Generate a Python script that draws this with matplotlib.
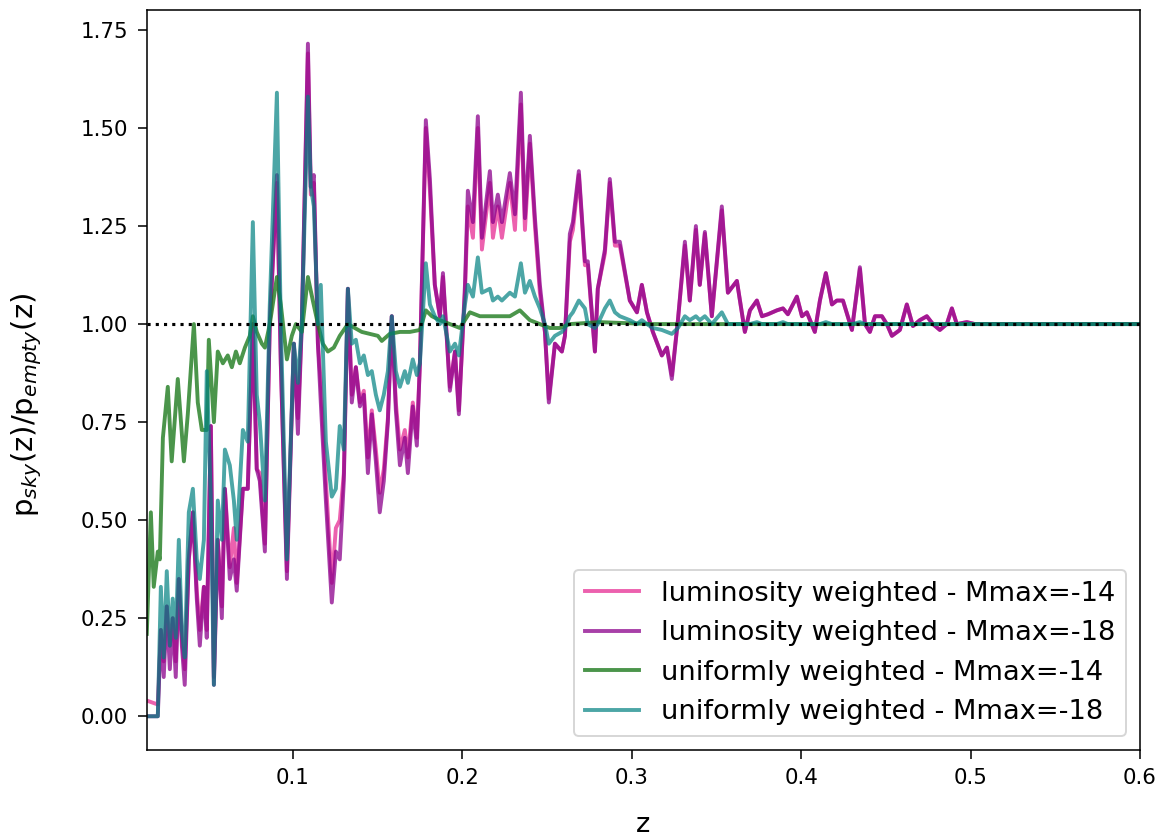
import numpy as np
import matplotlib
matplotlib.use("Agg")
import matplotlib.pyplot as plt

# values (z, p_sky/p_empty)
lum_z = [0.0138, 0.0203, 0.0221, 0.0238, 0.0256, 0.0274, 0.0291, 0.0309, 0.0327, 0.0345,
         0.0362, 0.0386, 0.0410, 0.0433, 0.0451, 0.0475, 0.0492, 0.0516, 0.0534, 0.0557,
         0.0581, 0.0599, 0.0628, 0.0652, 0.0669, 0.0705, 0.0734, 0.0764, 0.0787, 0.0805,
         0.0835, 0.0864, 0.0906, 0.0929, 0.0965, 0.1006, 0.1030, 0.1053, 0.1089, 0.1106,
         0.1124, 0.1148, 0.1165, 0.1195, 0.1230, 0.1254, 0.1277, 0.1301, 0.1325, 0.1348,
         0.1372, 0.1396, 0.1419, 0.1443, 0.1466, 0.1490, 0.1513, 0.1537, 0.1561, 0.1584,
         0.1608, 0.1632, 0.1661, 0.1679, 0.1708, 0.1732, 0.1750, 0.1785, 0.1809, 0.1838,
         0.1868, 0.1886, 0.1927, 0.1957, 0.1980, 0.2016, 0.2033, 0.2063, 0.2092, 0.2116,
         0.2163, 0.2181, 0.2210, 0.2234, 0.2281, 0.2311, 0.2346, 0.2370, 0.2399, 0.2429,
         0.2458, 0.2488, 0.2511, 0.2547, 0.2588, 0.2606, 0.2635, 0.2653, 0.2688, 0.2724,
         0.2741, 0.2783, 0.2800, 0.2842, 0.2871, 0.2901, 0.2930, 0.2989, 0.3031, 0.3060,
         0.3090, 0.3125, 0.3178, 0.3208, 0.3237, 0.3273, 0.3314, 0.3343, 0.3379, 0.3402,
         0.3432, 0.3473, 0.3532, 0.3568, 0.3621, 0.3668, 0.3698, 0.3739, 0.3769, 0.3804,
         0.3857, 0.3893, 0.3922, 0.3975, 0.4005, 0.4034, 0.4081, 0.4111, 0.4146, 0.4182,
         0.4211, 0.4247, 0.4300, 0.4347, 0.4377, 0.4406, 0.4436, 0.4477, 0.4506, 0.4536,
         0.4583, 0.4624, 0.4660, 0.4701, 0.4742, 0.4778, 0.4819, 0.4860, 0.4890, 0.4919,
         0.4978, 0.5026, 0.6000]

lum_m18 = [0.00, 0.00, 0.22, 0.10, 0.28, 0.12, 0.25, 0.10, 0.35, 0.18,
           0.08, 0.40, 0.52, 0.30, 0.18, 0.33, 0.20, 0.74, 0.08, 0.45,
           0.25, 0.58, 0.35, 0.40, 0.32, 0.58, 0.58, 1.00, 0.63, 0.60,
           0.42, 1.00, 1.38, 0.90, 0.35, 0.95, 0.72, 1.00, 1.715, 1.35,
           1.38, 0.95, 0.80, 0.55, 0.29, 0.42, 0.40, 0.60, 1.09, 0.80,
           0.89, 0.79, 0.82, 0.62, 0.77, 0.65, 0.52, 0.60, 0.75, 1.02,
           0.78, 0.64, 0.71, 0.62, 0.79, 0.69, 0.90, 1.52, 1.37, 1.10,
           1.02, 1.13, 0.83, 0.93, 0.77, 1.10, 1.34, 1.26, 1.53, 1.22,
           1.39, 1.26, 1.33, 1.26, 1.385, 1.28, 1.59, 1.27, 1.48, 1.27,
           1.10, 0.98, 0.80, 0.95, 0.93, 0.97, 1.23, 1.26, 1.39, 1.16,
           1.16, 0.93, 1.09, 1.19, 1.37, 1.21, 1.21, 1.06, 1.03, 1.10,
           1.03, 0.98, 0.92, 0.94, 0.86, 1.01, 1.21, 1.06, 1.25, 1.10,
           1.235, 1.02, 1.30, 1.08, 1.11, 0.98, 1.035, 1.06, 1.02, 1.025,
           1.035, 1.04, 1.025, 1.07, 1.02, 1.03, 0.98, 1.06, 1.13, 1.05,
           1.06, 1.06, 0.985, 1.145, 1.00, 0.98, 1.02, 1.02, 1.00, 0.97,
           0.985, 1.05, 0.995, 1.01, 1.02, 1.00, 0.985, 1.00, 1.04, 1.00,
           1.005, 1.00, 1.00]

lum_m14 = [0.04, 0.03, 0.22, 0.14, 0.28, 0.18, 0.25, 0.14, 0.35, 0.20,
           0.12, 0.40, 0.52, 0.32, 0.22, 0.33, 0.22, 0.74, 0.10, 0.45,
           0.28, 0.58, 0.38, 0.48, 0.34, 0.58, 0.58, 1.00, 0.63, 0.62,
           0.44, 1.00, 1.36, 0.90, 0.37, 0.95, 0.76, 1.00, 1.69, 1.33,
           1.36, 0.95, 0.85, 0.60, 0.34, 0.48, 0.50, 0.62, 1.09, 0.82,
           0.89, 0.80, 0.83, 0.66, 0.78, 0.68, 0.57, 0.63, 0.76, 1.02,
           0.80, 0.68, 0.73, 0.66, 0.80, 0.71, 0.90, 1.50, 1.34, 1.10,
           1.02, 1.12, 0.84, 0.93, 0.78, 1.08, 1.30, 1.22, 1.50, 1.19,
           1.36, 1.22, 1.30, 1.22, 1.36, 1.24, 1.56, 1.24, 1.46, 1.25,
           1.08, 0.98, 0.81, 0.95, 0.93, 0.97, 1.21, 1.24, 1.38, 1.15,
           1.15, 0.93, 1.09, 1.18, 1.36, 1.20, 1.20, 1.06, 1.03, 1.10,
           1.03, 0.98, 0.92, 0.94, 0.87, 1.01, 1.20, 1.06, 1.24, 1.10,
           1.23, 1.02, 1.29, 1.08, 1.11, 0.98, 1.035, 1.06, 1.02, 1.025,
           1.035, 1.04, 1.025, 1.07, 1.02, 1.03, 0.98, 1.06, 1.13, 1.05,
           1.06, 1.06, 0.985, 1.14, 1.00, 0.98, 1.02, 1.02, 1.00, 0.97,
           0.985, 1.05, 0.995, 1.01, 1.02, 1.00, 0.985, 1.00, 1.04, 1.00,
           1.005, 1.00, 1.00]

uni_m18 = [0.00, 0.00, 0.33, 0.15, 0.37, 0.18, 0.30, 0.20, 0.45, 0.22,
           0.15, 0.52, 0.58, 0.40, 0.35, 0.45, 0.88, 0.55, 0.08, 0.55,
           0.45, 0.68, 0.64, 0.55, 0.45, 0.73, 0.70, 1.26, 0.82, 0.75,
           0.55, 1.05, 1.59, 1.00, 0.40, 0.95, 0.85, 1.00, 1.58, 1.35,
           1.30, 1.00, 1.10, 0.70, 0.56, 0.58, 0.74, 0.68, 1.09, 0.95,
           0.96, 0.90, 0.92, 0.87, 0.88, 0.82, 0.78, 0.82, 0.88, 1.02,
           0.88, 0.84, 0.88, 0.85, 0.91, 0.87, 0.90, 1.155, 1.05, 1.02,
           1.00, 1.02, 0.93, 0.95, 0.92, 1.05, 1.10, 1.07, 1.17, 1.08,
           1.09, 1.06, 1.07, 1.06, 1.08, 1.07, 1.155, 1.08, 1.11, 1.07,
           1.04, 1.00, 0.95, 0.97, 0.98, 0.99, 1.02, 1.03, 1.06, 1.04,
           1.00, 0.99, 1.00, 1.04, 1.06, 1.03, 1.02, 1.01, 1.00, 1.01,
           1.00, 0.99, 0.985, 0.98, 0.975, 0.99, 1.02, 1.01, 1.02, 1.01,
           1.02, 1.00, 1.03, 1.00, 1.00, 1.00, 1.00, 1.005, 1.00, 1.00,
           1.00, 1.005, 1.00, 1.00, 1.00, 1.00, 1.00, 1.00, 1.005, 1.00,
           1.00, 1.00, 1.00, 1.005, 1.00, 1.00, 1.00, 1.00, 1.00, 1.00,
           1.00, 1.00, 1.00, 1.00, 1.00, 1.00, 1.00, 1.00, 1.00, 1.00,
           1.00, 1.00, 1.00]

uni_z = [0.0138, 0.0162, 0.0179, 0.0203, 0.0215, 0.0233, 0.0262, 0.0285, 0.0321, 0.0357,
         0.0380, 0.0416, 0.0439, 0.0463, 0.0492, 0.0504, 0.0534, 0.0557, 0.0587, 0.0616,
         0.0640, 0.0664, 0.0687, 0.0717, 0.0746, 0.0764, 0.0787, 0.0817, 0.0835, 0.0864,
         0.0906, 0.0929, 0.0965, 0.0994, 0.1018, 0.1053, 0.1089, 0.1118, 0.1148, 0.1177,
         0.1207, 0.1242, 0.1277, 0.1325, 0.1366, 0.1407, 0.1454, 0.1502, 0.1525, 0.1572,
         0.1632, 0.1691, 0.1750, 0.1785, 0.1821, 0.1868, 0.1927, 0.1986, 0.2045, 0.2104,
         0.2163, 0.2222, 0.2281, 0.2340, 0.2399, 0.2458, 0.2517, 0.2576, 0.2635, 0.2812,
         0.3107, 0.6000]

uni_m14 = [0.21, 0.52, 0.33, 0.42, 0.40, 0.71, 0.84, 0.65, 0.86, 0.65,
           0.77, 1.00, 0.80, 0.73, 0.73, 0.96, 0.75, 0.93, 0.90, 0.92,
           0.89, 0.93, 0.90, 0.94, 0.97, 1.02, 0.98, 0.95, 0.94, 1.00,
           1.12, 1.05, 0.91, 0.97, 1.00, 0.98, 1.12, 1.06, 1.00, 0.95,
           0.93, 0.94, 0.97, 1.00, 0.99, 0.98, 0.975, 0.97, 0.957, 0.975,
           0.98, 0.98, 0.985, 1.035, 1.02, 1.01, 1.00, 0.99, 1.03, 1.02,
           1.02, 1.02, 1.02, 1.035, 1.01, 1.00, 0.99, 0.99, 1.00, 1.005,
           1.00, 1.00]

labels = ["luminosity weighted - Mmax=-14", "luminosity weighted - Mmax=-18",
          "uniformly weighted - Mmax=-14", "uniformly weighted - Mmax=-18"]

fig = plt.figure(figsize=(1165 / 140, 836 / 140), dpi=140)
ax = fig.add_subplot(111)
fig.subplots_adjust(left=0.126, right=0.9785, bottom=0.103, top=0.988)

lw = 2.0
ax.plot(lum_z, lum_m14, color="#e8399a", alpha=0.8, lw=lw, label=labels[0])
ax.plot(lum_z, lum_m18, color="#8b008b", alpha=0.75, lw=lw, label=labels[1])
ax.plot(uni_z, uni_m14, color="#1e7b1e", alpha=0.8, lw=lw, label=labels[2])
ax.plot(lum_z, uni_m18, color="#008080", alpha=0.7, lw=lw, label=labels[3])
ax.axhline(1.0, color="k", linestyle=":", lw=1.6)

ax.set_xlim(lum_z[0], 0.6)
ax.tick_params(labelsize=11, pad=5, length=4.5)
ax.set_xlabel("z", fontsize=14, labelpad=12)
ax.set_ylabel(r"p$_{sky}$(z)/p$_{empty}$(z)", fontsize=15)
ax.yaxis.set_label_coords(-0.104, 0.466)
ax.legend(loc="lower right", fontsize=14)

fig.savefig("out.png", dpi=140)
